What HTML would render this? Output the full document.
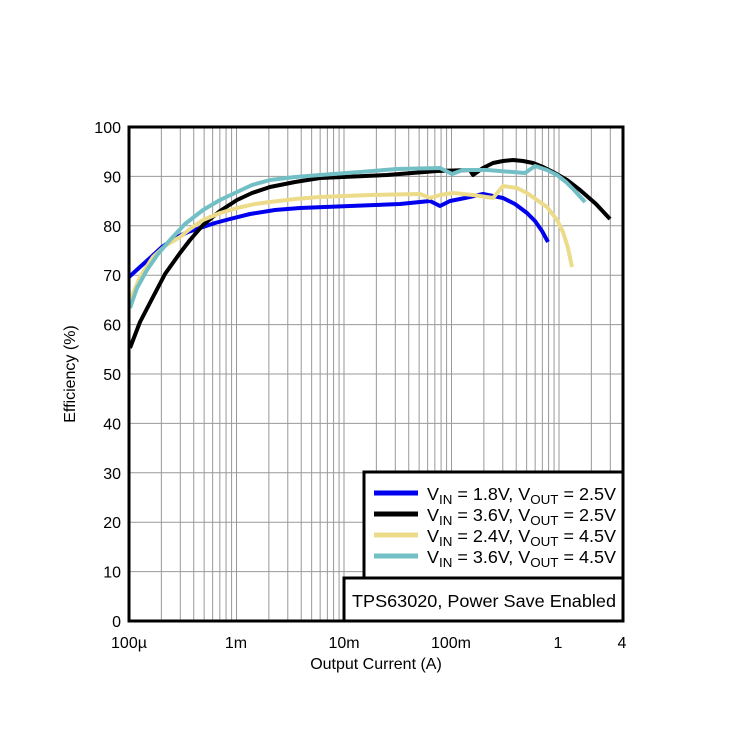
<!DOCTYPE html>
<html><head><meta charset="utf-8"><style>
body{margin:0;background:#fff;}
svg text{font-family:"Liberation Sans",Arial,sans-serif;fill:#000;}
</style></head><body>
<svg width="750" height="750" viewBox="0 0 750 750" xmlns="http://www.w3.org/2000/svg">
<rect width="750" height="750" fill="#fff"/>
<g id="grid" stroke="#999" stroke-width="1"></g>
<g fill="none" stroke-width="4" stroke-linejoin="round" stroke-linecap="butt">
<polyline stroke="#0000ee" points="129,277 140,267 150,258 162,247 175,238 188,232 200,228 215,223 230,219 250,214 275,210 300,208 350,206 400,204 430,201 440,206 450,201 465,198 483,194 503,198 515,204 527,213 535,221 542,231 548,242"/>
<polyline stroke="#000" points="130,348 140,322 153,297 165,274 180,253 190,240 203,225 220,211 237,200 252,193 270,187 295,182 320,178 387,175 437,171 470,170 473,175 483,168 493,163 503,161 513,160 523,161 533,163 543,167 553,172 567,180 580,190 596,204 610,219"/>
<polyline stroke="#ecdc8a" points="130,300 140,277 153,257 165,246 180,237 190,229 203,220 220,213 237,208 255,204 270,202 295,199 320,197 370,195 420,194 430,198 440,195 453,193 473,195 493,198 503,186 517,188 527,193 537,200 547,207 557,220 563,232 568,248 572,267"/>
<polyline stroke="#72c0c6" points="130,308 137,288 147,270 158,254 170,240 185,224 203,210 220,200 237,192 252,185 270,180 295,177 320,175 360,172 397,169 440,168 452,174 463,170 487,170 525,173 535,166 547,170 557,175 566,182 575,191 585,202"/>
</g>
<rect x="129" y="127" width="494" height="494" fill="none" stroke="#000" stroke-width="3"/>
<rect x="364" y="472" width="259" height="106" fill="#fff" stroke="#000" stroke-width="3"/>
<rect x="344" y="578" width="279" height="43" fill="#fff" stroke="#000" stroke-width="3"/>
<g stroke-width="5">
<line x1="374" y1="493" x2="418" y2="493" stroke="#0000ee"/>
<line x1="374" y1="514" x2="418" y2="514" stroke="#000"/>
<line x1="374" y1="535" x2="418" y2="535" stroke="#ecdc8a"/>
<line x1="374" y1="556" x2="418" y2="556" stroke="#72c0c6"/>
</g>
<g font-size="17.5">
<text x="427" y="500" textLength="189" lengthAdjust="spacingAndGlyphs">V<tspan font-size="13" dy="4">IN</tspan><tspan dy="-4"> = 1.8V, V</tspan><tspan font-size="13" dy="4">OUT</tspan><tspan dy="-4"> = 2.5V</tspan></text>
<text x="427" y="521" textLength="189" lengthAdjust="spacingAndGlyphs">V<tspan font-size="13" dy="4">IN</tspan><tspan dy="-4"> = 3.6V, V</tspan><tspan font-size="13" dy="4">OUT</tspan><tspan dy="-4"> = 2.5V</tspan></text>
<text x="427" y="542" textLength="189" lengthAdjust="spacingAndGlyphs">V<tspan font-size="13" dy="4">IN</tspan><tspan dy="-4"> = 2.4V, V</tspan><tspan font-size="13" dy="4">OUT</tspan><tspan dy="-4"> = 4.5V</tspan></text>
<text x="427" y="563" textLength="189" lengthAdjust="spacingAndGlyphs">V<tspan font-size="13" dy="4">IN</tspan><tspan dy="-4"> = 3.6V, V</tspan><tspan font-size="13" dy="4">OUT</tspan><tspan dy="-4"> = 4.5V</tspan></text>
<text x="352" y="607" textLength="264" lengthAdjust="spacingAndGlyphs">TPS63020, Power Save Enabled</text>
</g>
<g font-size="16" text-anchor="end" id="ylab"></g>
<g font-size="16" text-anchor="middle">
<text x="129" y="648">100µ</text><text x="236" y="648">1m</text><text x="344" y="648">10m</text><text x="451" y="648">100m</text><text x="558" y="648">1</text><text x="622" y="648">4</text>
<text x="376" y="669">Output Current (A)</text>
<text transform="translate(75,374) rotate(-90)">Efficiency (%)</text>
</g>
<script>
var g=document.getElementById('grid'),ns='http://www.w3.org/2000/svg',yl=document.getElementById('ylab');
for(var i=0;i<=10;i++){var y=621-i*49.4;var l=document.createElementNS(ns,'line');l.setAttribute('x1',129);l.setAttribute('x2',623);l.setAttribute('y1',y);l.setAttribute('y2',y);g.appendChild(l);
var t=document.createElementNS(ns,'text');t.setAttribute('x',121);t.setAttribute('y',y+6);t.textContent=i*10;yl.appendChild(t);}
for(var d=-4;d<=0;d++){for(var k=1;k<=9;k++){var x=129+(d+4+Math.log10(k))*107.5;if(x>623)break;var l=document.createElementNS(ns,'line');l.setAttribute('x1',x);l.setAttribute('x2',x);l.setAttribute('y1',127);l.setAttribute('y2',621);g.appendChild(l);}}
</script>
</svg>
</body></html>
